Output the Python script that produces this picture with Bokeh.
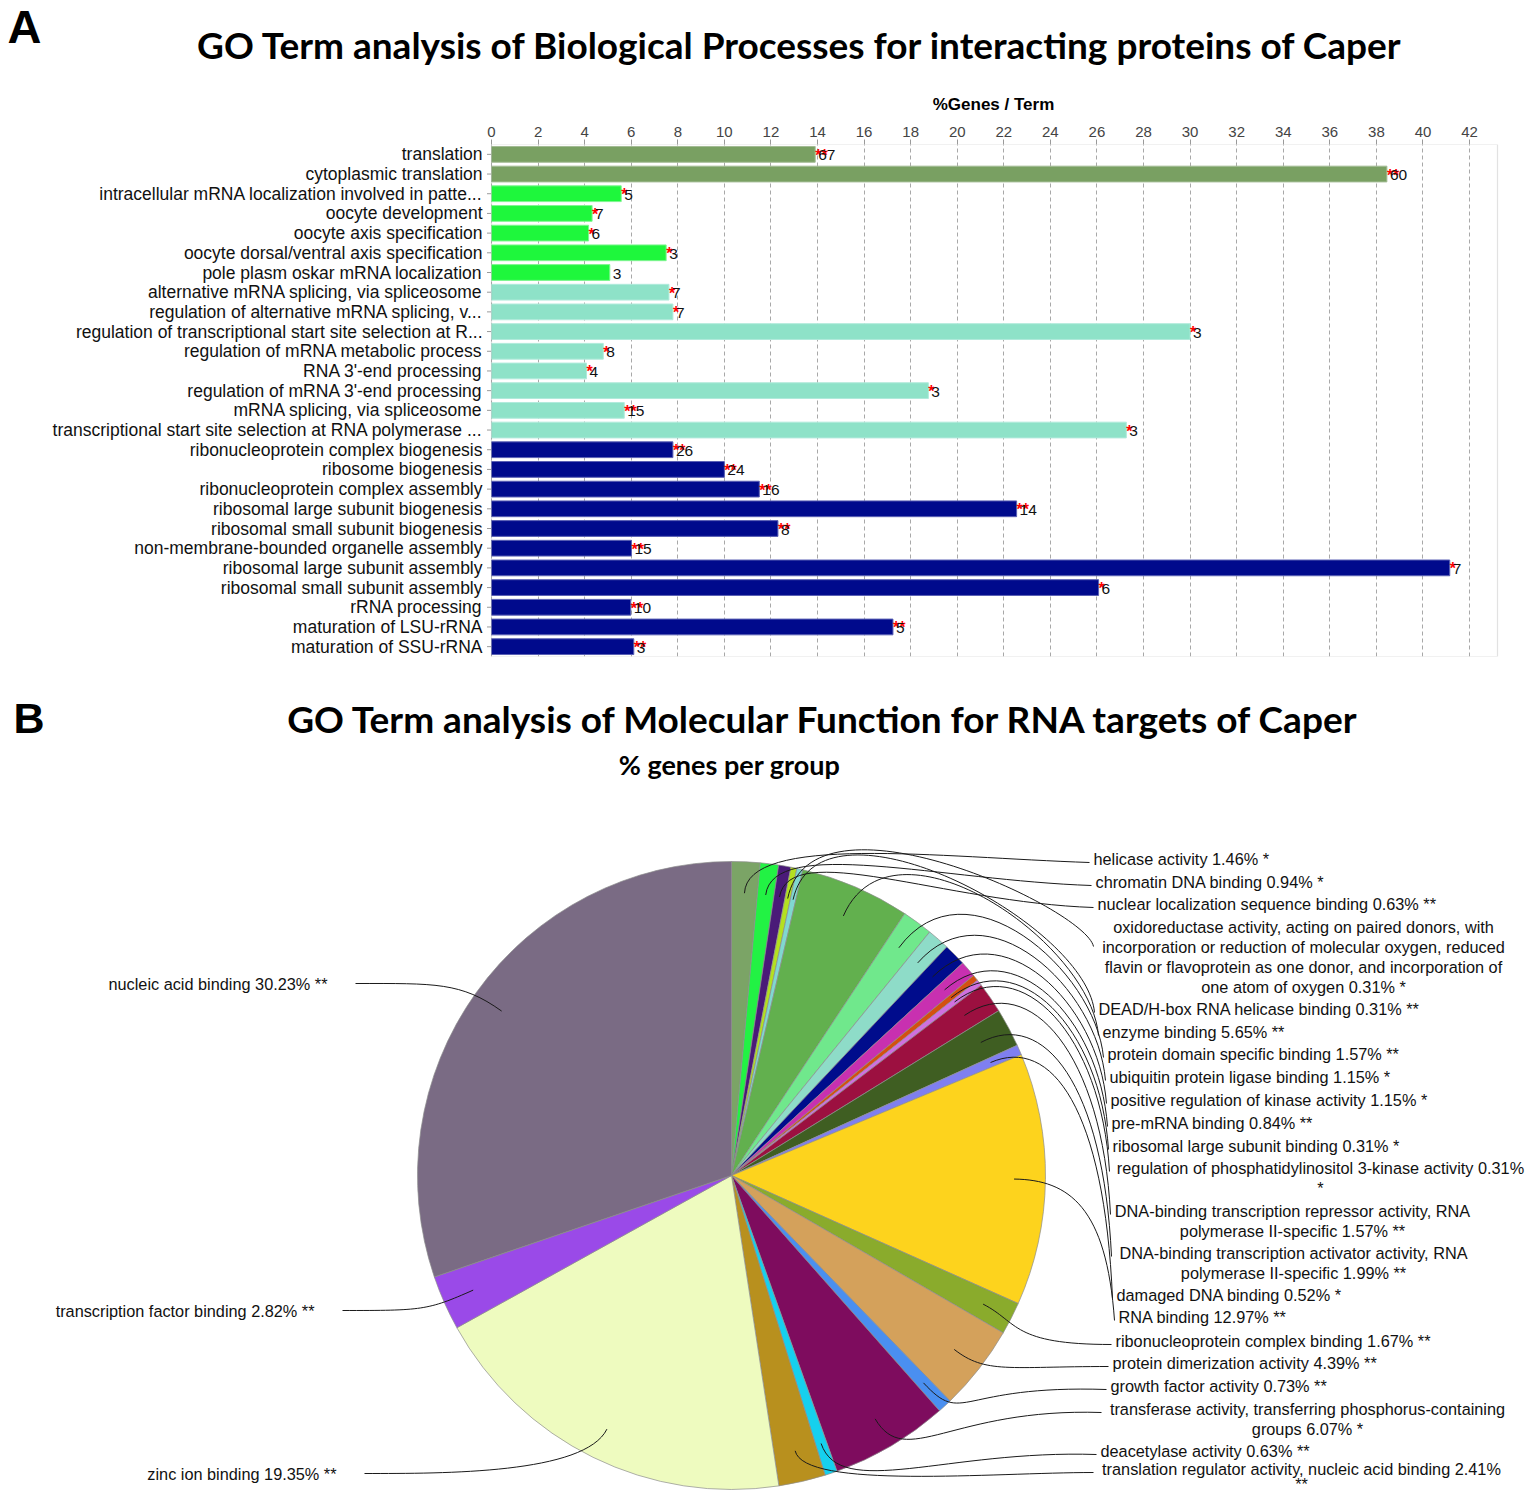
import textwrap
import numpy as np
from bokeh.plotting import figure
from bokeh.models import ColumnDataSource, FactorRange, Range1d, FixedTicker, BoxAnnotation
from bokeh.layouts import column
from bokeh.embed import file_html
from bokeh.resources import INLINE
from bokeh.core.properties import value

# ---------------- Panel A data ----------------
bp_terms = [
    "translation", "cytoplasmic translation",
    "intracellular mRNA localization involved in patte...", "oocyte development",
    "oocyte axis specification", "oocyte dorsal/ventral axis specification",
    "pole plasm oskar mRNA localization", "alternative mRNA splicing, via spliceosome",
    "regulation of alternative mRNA splicing, v...",
    "regulation of transcriptional start site selection at R...",
    "regulation of mRNA metabolic process", "RNA 3'-end processing",
    "regulation of mRNA 3'-end processing", "mRNA splicing, via spliceosome",
    "transcriptional start site selection at RNA polymerase ...",
    "ribonucleoprotein complex biogenesis", "ribosome biogenesis",
    "ribonucleoprotein complex assembly", "ribosomal large subunit biogenesis",
    "ribosomal small subunit biogenesis", "non-membrane-bounded organelle assembly",
    "ribosomal large subunit assembly", "ribosomal small subunit assembly",
    "rRNA processing", "maturation of LSU-rRNA", "maturation of SSU-rRNA",
]
bp_pct = [13.9, 38.45, 5.57, 4.32, 4.17, 7.5, 5.08, 7.62, 7.79, 30.0, 4.8, 4.08, 18.76,
          5.7, 27.26, 7.79, 10.0, 11.5, 22.55, 12.3, 6.01, 41.15, 26.07, 5.98, 17.24, 6.11]
bp_count = [67, 60, 5, 7, 6, 3, 3, 7, 7, 3, 8, 4, 3, 15, 3, 26, 24, 16, 14, 8, 15, 7, 6,
            10, 5, 3]
bp_stars = ["**", "**", "*", "*", "*", "*", "", "*", "*", "*", "*", "*", "*", "**", "*",
            "**", "**", "**", "**", "**", "**", "*", "*", "**", "**", "**"]
bp_group = [0, 0, 1, 1, 1, 1, 1, 2, 2, 2, 2, 2, 2, 2, 2, 3, 3, 3, 3, 3, 3, 3, 3, 3, 3, 3]
bp_ticks = list(range(0, 43, 2))
bp_axis_max = 43.2

group_fill = ["#79a062", "#1ef73c", "#8ee2c8", "#000a8c"]
group_line = ["#a3bb94", "#7ef590", "#b0eadb", "#5a60b4"]

# ---------------- Panel B data ----------------
mf_terms = [
    "helicase activity", "chromatin DNA binding", "nuclear localization sequence binding",
    "oxidoreductase activity, acting on paired donors, with incorporation or reduction of molecular oxygen, reduced flavin or flavoprotein as one donor, and incorporation of one atom of oxygen",
    "DEAD/H-box RNA helicase binding", "enzyme binding", "protein domain specific binding",
    "ubiquitin protein ligase binding", "positive regulation of kinase activity",
    "pre-mRNA binding", "ribosomal large subunit binding",
    "regulation of phosphatidylinositol 3-kinase activity",
    "DNA-binding transcription repressor activity, RNA polymerase II-specific",
    "DNA-binding transcription activator activity, RNA polymerase II-specific",
    "damaged DNA binding", "RNA binding", "ribonucleoprotein complex binding",
    "protein dimerization activity", "growth factor activity",
    "transferase activity, transferring phosphorus-containing groups",
    "deacetylase activity", "translation regulator activity, nucleic acid binding",
    "zinc ion binding", "transcription factor binding", "nucleic acid binding",
]
mf_pct = [1.46, 0.94, 0.63, 0.31, 0.31, 5.65, 1.57, 1.15, 1.15, 0.84, 0.31, 0.31, 1.57,
          1.99, 0.52, 12.97, 1.67, 4.39, 0.73, 6.07, 0.63, 2.41, 19.35, 2.82, 30.23]
mf_sig = ["*", "*", "**", "*", "**", "**", "**", "*", "*", "**", "*", "*", "**", "**", "*",
          "**", "**", "**", "**", "*", "**", "**", "**", "**", "**"]
mf_colors = ["#7ba466", "#22f244", "#4a1a78", "#b4e020", "#80d8d0", "#62b04e", "#70e88c",
             "#8edcc8", "#000c8c", "#c830b0", "#d45010", "#d070e0", "#9c1040", "#3f5e22",
             "#7f7ff0", "#fdd31d", "#8aab2c", "#d4a15b", "#4a8ff0", "#7e0c5e", "#16d0ee",
             "#b8901e", "#eefbbf", "#9a4ae8", "#7a6b84"]

# label layout (page pixel positions)
lab_x = [1093, 1095, 1097, 1303, 1098, 1102, 1107, 1109, 1110, 1111, 1112, 1320, 1292,
         1293, 1116, 1118, 1115, 1112, 1110, 1307, 1100, 1301, 336, 314, 327]
lab_y = [858, 881, 903, 926, 1008, 1031, 1053, 1076, 1099, 1122, 1145, 1167, 1210, 1252,
         1294, 1316, 1340, 1362, 1385, 1408, 1450, 1468, 1473, 1310, 983]
lab_step = [20] * 21 + [15] + [20] * 3
lab_align = ["left"] * 3 + ["center"] + ["left"] * 7 + ["center"] * 3 + ["left"] * 5 + \
            ["center", "left", "center"] + ["right"] * 3
lab_wrap = [200, 200, 200, 57, 200, 200, 200, 200, 200, 200, 200, 58, 55, 55, 200, 200,
            200, 200, 200, 56, 200, 58, 200, 200, 200]
lab_anchor = [1093, 1095, 1097, 1097, 1098, 1102, 1107, 1109, 1110, 1111, 1112, 1113, 1114,
              1115, 1116, 1118, 1115, 1112, 1110, 1105, 1100, 1097, 336, 314, 327]

SANS = value("Liberation Sans")
TITLE = value("Lato")
W = 1530
H_HEAD, H_BAR, H_PIE = 116, 554, 826


def fig_plain(h, top):
    f = figure(width=W, height=h, x_range=Range1d(0, W), y_range=Range1d(-(top + h), -top),
               x_axis_type=None, y_axis_type=None, min_border=0, output_backend="svg",
               toolbar_location=None)
    f.outline_line_color = None
    f.grid.visible = False
    return f


# ---------------- header of panel A ----------------
hA = fig_plain(H_HEAD, 0)
hA.text(x=[7], y=[-26], text=["A"], text_font=SANS, text_font_style="bold",
        text_font_size="47px", text_baseline="middle", text_align="left",
        text_color="black")
hA.text(x=[800], y=[-44], text=["GO Term analysis of Biological Processes for interacting proteins of Caper"],
        text_font=TITLE, text_font_style="bold", text_font_size="37px",
        text_baseline="middle", text_align="center", text_color="black")
hA.text(x=[993], y=[-104], text=["%Genes / Term"], text_font=SANS, text_font_style="bold",
        text_font_size="17px", text_baseline="middle", text_align="center", text_color="black")

# ---------------- panel A bar chart ----------------
box_left_px, box_right_px = 491, 1497          # figure pixels of the plotted box
scale = (box_right_px - box_left_px) / bp_axis_max
srcA = ColumnDataSource(dict(
    term=bp_terms, pct=bp_pct, zero=[0] * len(bp_terms),
    fill=[group_fill[g] for g in bp_group], line=[group_line[g] for g in bp_group],
    stars=bp_stars, cnt=[str(c) for c in bp_count],
))
pA = figure(width=W, height=H_BAR, y_range=FactorRange(factors=bp_terms[::-1]),
            x_range=Range1d(-box_left_px / scale, (W - box_left_px) / scale),
            x_axis_location="above", y_axis_location=None,
            min_border_left=0, min_border_right=0, min_border_top=28, min_border_bottom=14,
            output_backend="svg", toolbar_location=None)
pA.outline_line_color = None
for g in pA.grid:
    if g.dimension == 1:
        g.visible = False
pA.scatter(x="zero", y="term", source=srcA, marker="dash", size=9, line_color="#9a9a9a",
           line_width=1)
pA.hbar(y="term", left=0, right="pct", height=0.8, source=srcA,
        fill_color="fill", line_color="line", line_width=1)
pA.add_layout(BoxAnnotation(left=0, right=bp_axis_max, fill_alpha=0, line_color="#a0a0a0",
                            line_width=1.2))
pA.text(x="zero", y="term", text="term", source=srcA, x_offset=-9, text_align="right",
        text_baseline="middle", text_font=SANS, text_font_size="17.5px", text_color="#111111")
pA.text(x="pct", y="term", text="stars", source=srcA, x_offset=0, y_offset=1,
        text_color="red", text_font=SANS, text_font_size="16px", text_font_style="bold",
        text_baseline="middle")
pA.text(x="pct", y="term", text="cnt", source=srcA, x_offset=3, y_offset=1,
        text_color="#111111", text_font=SANS, text_font_size="15.5px", text_baseline="middle")

pA.xaxis.ticker = FixedTicker(ticks=bp_ticks)
pA.xaxis.major_label_text_font = "Liberation Sans"
pA.xaxis.major_label_text_font_size = "15px"
pA.xaxis.major_label_standoff = 3
pA.xaxis.major_tick_in = 0
pA.xaxis.major_tick_out = 5
pA.xaxis.minor_tick_line_color = None
pA.xaxis.axis_line_color = None
pA.xaxis.major_tick_line_color = "#9a9a9a"
pA.xgrid.grid_line_dash = "4 3"
pA.xgrid.grid_line_color = "#a8a8a8"

# ---------------- panel B pie chart ----------------
top_B = H_HEAD + H_BAR
pB = fig_plain(H_PIE, top_B)

pB.text(x=[13], y=[-717], text=["B"], text_font=SANS, text_font_style="bold",
        text_font_size="43px", text_baseline="middle", text_align="left",
        text_color="black")
pB.text(x=[824], y=[-718], text=["GO Term analysis of Molecular Function for RNA targets of Caper"],
        text_font=TITLE, text_font_style="bold", text_font_size="37px",
        text_baseline="middle", text_align="center", text_color="black")
pB.text(x=[729], y=[-764], text=["% genes per group"], text_font=TITLE,
        text_font_style="bold", text_font_size="27px", text_baseline="middle",
        text_align="center", text_color="black")

CX, CY, R = 731, 1175, 314
pct = np.array(mf_pct)
frac = pct / pct.sum()
cum_end = np.cumsum(frac)
cum_start = cum_end - frac
srcB = ColumnDataSource(dict(
    start=np.pi / 2 - 2 * np.pi * cum_end,
    end=np.pi / 2 - 2 * np.pi * cum_start,
    color=mf_colors,
))
pB.wedge(x=CX, y=-CY, radius=R, start_angle="start", end_angle="end", source=srcB,
         fill_color="color", line_color="#8c8c8c", line_width=0.7)

# leader lines
theta = 2 * np.pi * (cum_start + frac / 2)
ux, uy = np.sin(theta), -np.cos(theta)
bx0, by0, bx1, by1, bcx0, bcy0, bcx1, bcy1 = [], [], [], [], [], [], [], []
for i in range(len(mf_terms)):
    p0x, p0y = CX + 0.9 * R * ux[i], CY + 0.9 * R * uy[i]
    if lab_align[i] == "right":
        p3x, p3y = lab_anchor[i] + 28, lab_y[i]
        c1x, c1y = p0x + 50 * ux[i], p0y + 50 * uy[i]
        c2x, c2y = p3x + 80, p3y
    else:
        p3x = lab_anchor[i] - 4
        p3y = lab_y[i] + (20 if i == 3 else 4)
        if p3y < p0y + 15:
            c1x, c1y = p0x + 60 * ux[i], p0y + 60 * uy[i]
            c2x, c2y = p3x - 150, p3y - 5
        elif np.degrees(theta[i]) < 100:
            d = min(120, 0.55 * (p3x - p0x))
            c1x, c1y = p0x + d * ux[i], p0y + d * uy[i]
            c2x, c2y = p3x - 8, p3y - 0.8 * (p3y - p0y)
        else:
            c1x, c1y = p0x + 40 * ux[i], p0y + 40 * uy[i]
            c2x, c2y = p3x - 100, p3y
    bx0.append(p0x); by0.append(-p0y); bx1.append(p3x); by1.append(-p3y)
    bcx0.append(c1x); bcy0.append(-c1y); bcx1.append(c2x); bcy1.append(-c2y)
pB.bezier(x0=bx0, y0=by0, x1=bx1, y1=by1, cx0=bcx0, cy0=bcy0, cx1=bcx1, cy1=bcy1,
          line_color="#1a1a1a", line_width=1)

# labels
groups = {"left": ([], [], []), "center": ([], [], []), "right": ([], [], [])}
for i, term in enumerate(mf_terms):
    full = f"{term} {mf_pct[i]:.2f}% {mf_sig[i]}"
    lines = textwrap.wrap(full, width=lab_wrap[i])
    for k, ln in enumerate(lines):
        gx, gy, gt = groups[lab_align[i]]
        gx.append(lab_x[i]); gy.append(-(lab_y[i] + lab_step[i] * k)); gt.append(ln)
for al, (gx, gy, gt) in groups.items():
    pB.text(x=gx, y=gy, text=gt, text_font=SANS, text_font_size="16.3px",
            text_align=al, text_baseline="middle", text_color="#111111")

layout = column(hA, pA, pB, spacing=0)
open("out.html", "w").write(file_html(layout, INLINE))
